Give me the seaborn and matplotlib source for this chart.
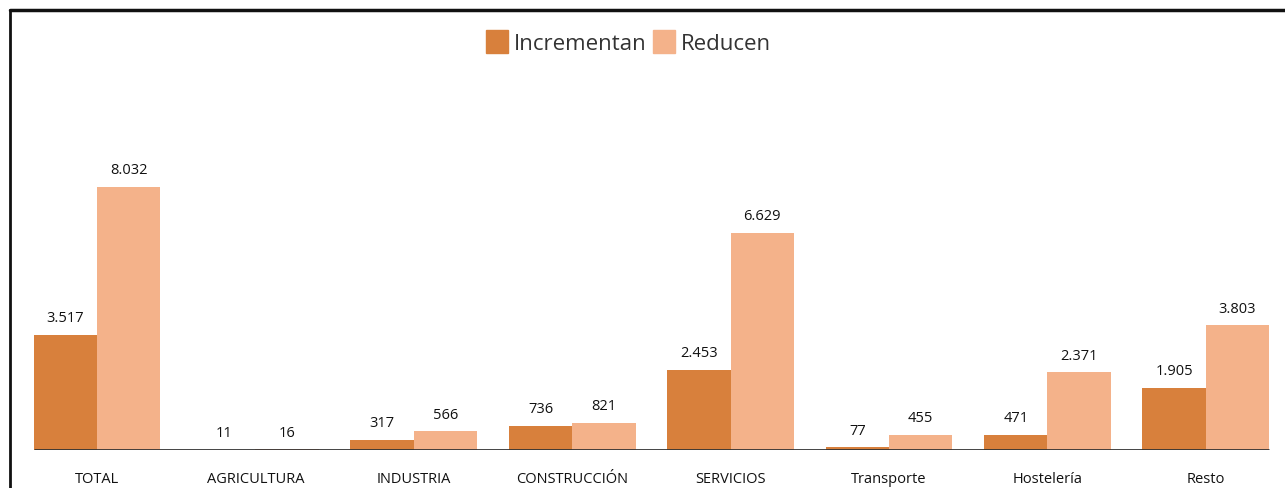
import pandas as pd
import seaborn as sns
import matplotlib.pyplot as plt
from matplotlib.lines import Line2D

# datos del gráfico
categorias = ['TOTAL', 'AGRICULTURA', 'INDUSTRIA', 'CONSTRUCCIÓN', 'SERVICIOS',
              'Transporte', 'Hostelería', 'Resto']
incrementan = [3517, 11, 317, 736, 2453, 77, 471, 1905]
reducen = [8032, 16, 566, 821, 6629, 455, 2371, 3803]
series = ['Incrementan', 'Reducen']
colores = ['#D8803C', '#F4B28A']

df = pd.DataFrame({
    'categoria': categorias * 2,
    'serie': [series[0]] * len(categorias) + [series[1]] * len(categorias),
    'valor': incrementan + reducen,
})

sns.set_style('white')
plt.rcParams['font.family'] = ['Open Sans', 'DejaVu Sans']

fig = plt.figure(figsize=(12.85, 4.89), dpi=100)
ax = fig.add_axes([0.0138, 0.0777, 0.9862, 0.8998])

sns.barplot(data=df, x='categoria', y='valor', hue='serie', order=categorias,
            hue_order=series, palette=colores, width=0.8, saturation=1,
            edgecolor='none', ax=ax)

# etiquetas de valores con punto de miles
for cont in ax.containers:
    labs = [f"{int(b.get_height()):,}".replace(',', '.') for b in cont]
    ax.bar_label(cont, labels=labs, padding=7, fontsize=10.5, color='#111111')

ax.set_ylim(0, 13430)
ax.set_xlim(-0.5, len(categorias) - 0.5)
ax.hlines(0, -0.4, len(categorias) - 1 + 0.4, color='#333333', lw=2, zorder=5)
for s in ax.spines.values():
    s.set_visible(False)
ax.set_yticks([])
ax.set_xlabel('')
ax.set_ylabel('')
ax.tick_params(axis='x', length=0, pad=15, labelsize=10.5, labelcolor='#111111')

ax.get_legend().remove()
handles = [plt.Rectangle((0, 0), 1, 1, color=c) for c in colores]
fig.legend(handles, series, loc='center', bbox_to_anchor=(0.489, 0.912), ncol=2,
           frameon=False, fontsize=16, handlelength=1.0, handleheight=1.2,
           handletextpad=0.25, columnspacing=0.3, labelcolor='#333333')

# marco superior e izquierdo
fig.add_artist(Line2D([0.008, 1.0], [0.977, 0.977], transform=fig.transFigure,
                      color='#111111', lw=2.5))
fig.add_artist(Line2D([0.008, 0.008], [0.0, 0.977], transform=fig.transFigure,
                      color='#111111', lw=2))

fig.savefig('out.png', dpi=100)
